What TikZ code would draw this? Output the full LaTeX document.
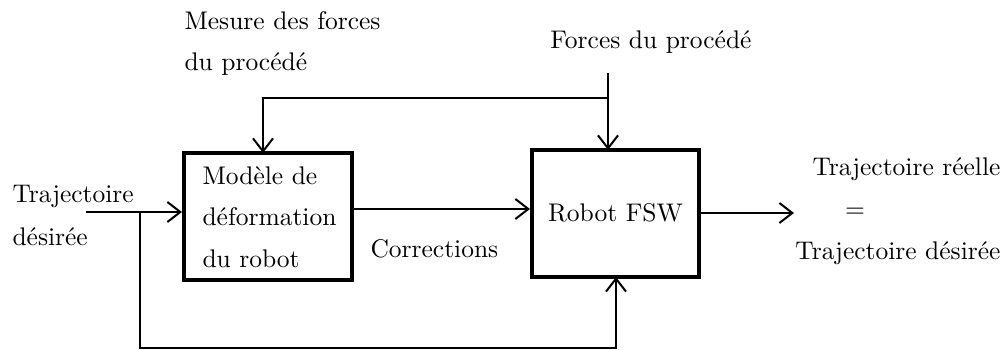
\documentclass[tikz,border=0pt]{standalone}
\usetikzlibrary{arrows.meta}
\begin{document}
\begin{tikzpicture}[x=1pt,y=-1pt,
  txt/.style={font=\fontsize{10}{16.3}\selectfont, inner sep=0pt, scale=2.55, transform shape},
  blockbox/.style={draw, line width=4pt, inner sep=0pt},
  conn/.style={line width=2pt, -{Straight Barb[length=13pt,width=20pt,line width=2pt]}},
  plain/.style={line width=2pt}]
\useasboundingbox (0,0) rectangle (1005,350);
% blocks
\node[blockbox, minimum width=168pt, minimum height=127pt] (modele) at (268,216.5) {};
\node[txt, align=left, anchor=north west] (modeletxt) at (202,166) {Modèle de\\déformation\\du robot};
\node[blockbox, minimum width=167pt, minimum height=127pt] (robot) at (615.5,213.5) {};
\node[txt, anchor=base] (robottxt) at (615.5,222) {Robot FSW};
% texts
\node[txt, anchor=base west] (mesure1) at (184,30) {Mesure des forces};
\node[txt, anchor=base west] (mesure2) at (184,71) {du procédé};
\node[txt, anchor=base] (forces) at (651,49) {Forces du procédé};
\node[txt, anchor=base west] (traj1) at (12,203) {Trajectoire};
\node[txt, anchor=base west] (traj2) at (12,246) {désirée};
\node[txt, anchor=base west] (corr) at (370,258) {Corrections};
\node[txt, anchor=base east] (reelle) at (1001,176) {Trajectoire réelle};
\node[txt] (egal) at (855,213) {$=$};
\node[txt, anchor=base east] (desiree) at (1001,259) {Trajectoire désirée};
% coordinates
\coordinate (inA) at (86,212);
\coordinate (br) at (140,212);
\coordinate (fTop) at (608,73);
\coordinate (fJ) at (608,98);
\coordinate (out) at (794,213);
% connectors
\draw[conn] (inA) -- (inA -| modele.west);
\draw[plain] (br) -- (140,348) -- (617,348);
\draw[conn] (616,348) -- (616,277);
\draw[conn] (modele.east |- 0,209) -- (robot.west |- 0,209);
\draw[conn] (fTop) -- (608,150);
\draw[plain] (fJ) -- (263,98);
\draw[conn] (263,97) -- (263,153);
\draw[conn] (robot.east |- out) -- (out);
\end{tikzpicture}
\end{document}
